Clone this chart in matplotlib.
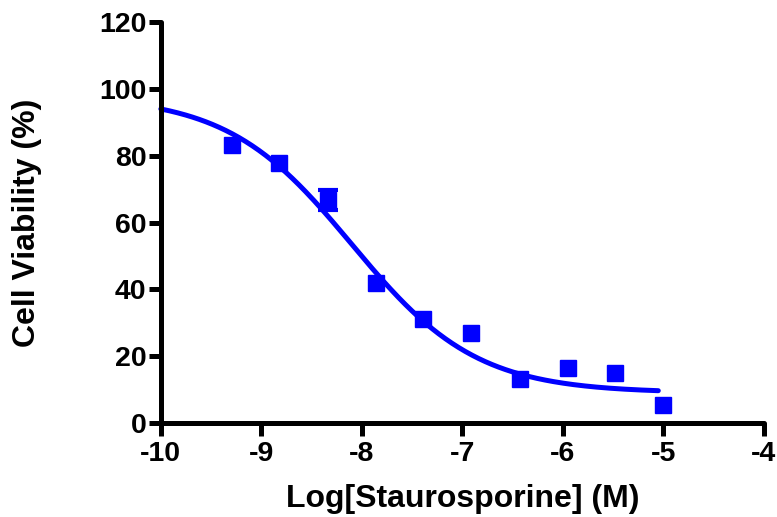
import numpy as np
import matplotlib.pyplot as plt

plt.rcParams['font.family'] = ['Liberation Sans', 'DejaVu Sans']
plt.rcParams['font.weight'] = 'bold'

# dose (log M) and viability (%)
log_dose = [-9.29, -8.82, -8.34, -7.86, -7.39, -6.91, -6.43, -5.95, -5.48, -5.0]
viability = [83.3, 77.8, 66.8, 42.0, 31.0, 27.0, 13.0, 16.5, 14.8, 5.5]
sem = [0.0, 0.0, 3.1, 0.0, 0.0, 0.0, 0.0, 0.0, 0.0, 0.0]

# fitted 4PL parameters
top = 98.0
bottom = 9.0
log_ic50 = -8.1
hill = 0.7
fit_start, fit_end = -10.0, -5.05

blue = '#0000ff'

fig = plt.figure(figsize=(7.77, 5.17), dpi=100)
ax = fig.add_axes([0.207, 0.182, 0.776, 0.775])

xs = np.linspace(fit_start, fit_end, 300)
ys = bottom + (top - bottom) / (1 + 10 ** ((xs - log_ic50) * hill))
ax.plot(xs, ys, color=blue, lw=3.6, solid_capstyle='round', zorder=2, clip_on=False)

# error bars only where there is a spread (others hide inside the marker)
xd = np.array(log_dose)
yd = np.array(viability)
ed = np.array(sem)
m = ed > 0
ax.errorbar(xd[m], yd[m], yerr=ed[m], fmt='none', ecolor=blue, elinewidth=3,
            capsize=7, capthick=3, zorder=3, clip_on=False)
ax.plot(xd, yd, 's', color=blue, ms=11.5, zorder=4, clip_on=False)

ax.set_xlim(-10, -4)
ax.set_ylim(0, 120)
ax.set_xticks([-10, -9, -8, -7, -6, -5, -4])
ax.set_yticks([0, 20, 40, 60, 80, 100, 120])
ax.set_xticklabels(['-10', '-9', '-8', '-7', '-6', '-5', '-4'])

for s in ['top', 'right']:
    ax.spines[s].set_visible(False)
for s in ['left', 'bottom']:
    ax.spines[s].set_linewidth(3.6)
    ax.spines[s].set_capstyle('round')

ax.tick_params(width=3.6, length=9, labelsize=20.5)
ax.tick_params(axis='y', pad=1.5)
ax.tick_params(axis='x', pad=4)

ax.set_xlabel('Log[Staurosporine] (M)', fontsize=23, fontweight='bold')
ax.set_ylabel('Cell Viability (%)', fontsize=23, fontweight='bold')
ax.xaxis.set_label_coords(0.5, -0.152)
ax.yaxis.set_label_coords(-0.197, 0.5)

fig.savefig('out.png', dpi=100)
